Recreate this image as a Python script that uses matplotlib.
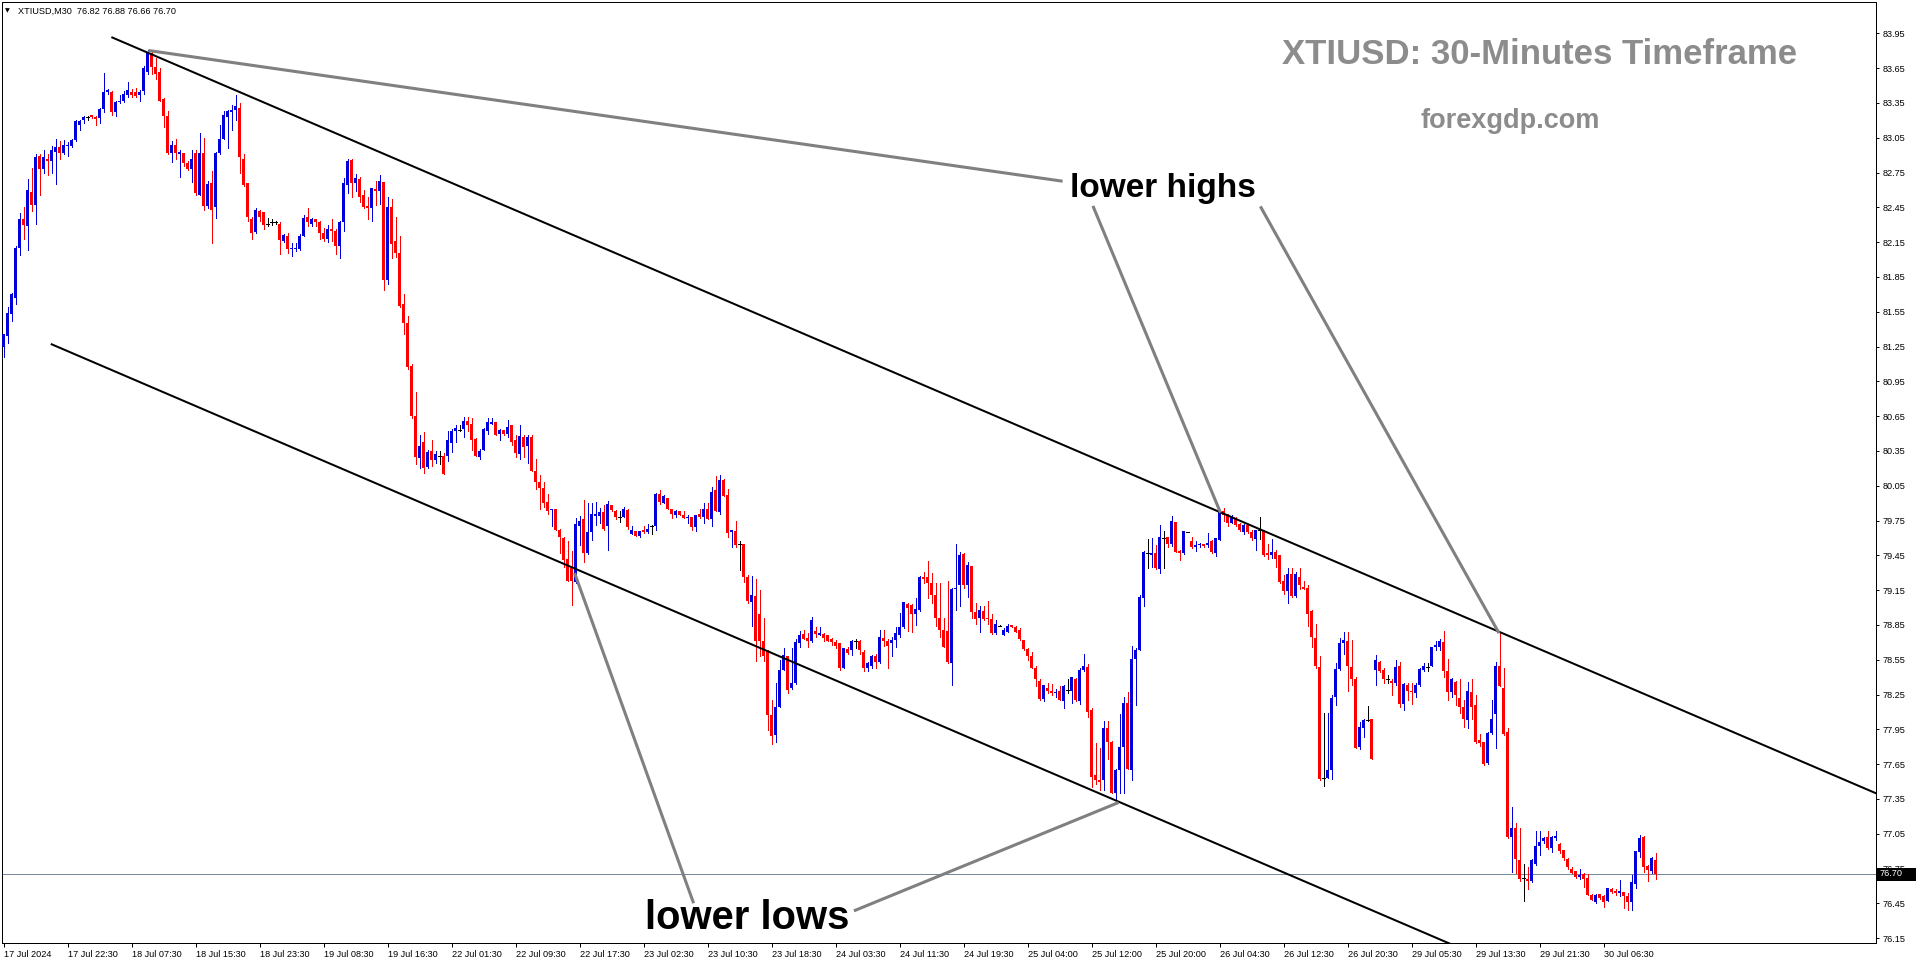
import matplotlib
matplotlib.use("Agg")
import matplotlib.pyplot as plt
from matplotlib.patches import Rectangle
import numpy as np

# XTIUSD M30 candles (one entry per bar)
opens = [
    81.25, 81.34, 81.53, 81.67, 82.10, 82.35, 82.29, 82.58, 82.47, 82.89,
    82.78, 82.87, 82.85, 82.93, 82.97, 82.92, 82.98, 82.98, 83.03, 83.16,
    83.20, 83.23, 83.25, 83.23, 83.22, 83.30, 83.44, 83.44, 83.27, 83.36,
    83.37, 83.42, 83.44, 83.44, 83.42, 83.45, 83.62, 83.78, 83.66, 83.62,
    83.38, 83.24, 82.92, 82.99, 82.91, 82.92, 82.83, 82.78, 82.92, 82.56,
    82.92, 82.46, 82.66, 82.45, 82.92, 83.04, 83.23, 83.27, 83.29, 83.31,
    82.87, 82.66, 82.35, 82.24, 82.42, 82.41, 82.31, 82.32, 82.32, 82.31,
    82.16, 82.20, 82.09, 82.09, 82.09, 82.20, 82.37, 82.31, 82.35, 82.32,
    82.23, 82.18, 82.26, 82.25, 82.12, 82.32, 82.64, 82.86, 82.66, 82.69,
    82.56, 82.46, 82.44, 82.61, 82.59, 82.67, 81.82, 82.45, 82.16, 82.06,
    81.62, 81.45, 81.08, 80.65, 80.29, 80.43, 80.21, 80.35, 80.27, 80.31,
    80.31, 80.31, 80.42, 80.52, 80.53, 80.54, 80.61, 80.58, 80.45, 80.30,
    80.36, 80.52, 80.58, 80.60, 80.50, 80.53, 80.50, 80.57, 80.44, 80.32,
    80.47, 80.39, 80.47, 80.18, 80.08, 80.03, 79.91, 79.84, 79.85, 79.67,
    79.60, 79.42, 79.34, 79.22, 79.70, 79.76, 79.47, 79.65, 79.79, 79.79,
    79.82, 79.70, 79.88, 79.83, 79.78, 79.78, 79.84, 79.63, 79.66, 79.62,
    79.67, 79.65, 79.70, 79.70, 79.98, 79.90, 79.94, 79.85, 79.80, 79.83,
    79.80, 79.77, 79.78, 79.69, 79.81, 79.78, 79.85, 79.76, 80.01, 79.82,
    80.10, 79.97, 79.65, 79.66, 79.55, 79.55, 79.26, 79.05, 79.10, 78.94,
    78.71, 78.62, 78.07, 77.90, 78.14, 78.46, 78.58, 78.31, 78.35, 78.69,
    78.77, 78.74, 78.71, 78.80, 78.76, 78.77, 78.76, 78.73, 78.70, 78.69,
    78.48, 78.64, 78.63, 78.71, 78.71, 78.62, 78.48, 78.50, 78.58, 78.53,
    78.74, 78.71, 78.69, 78.72, 78.76, 78.83, 79.03, 79.02, 78.94, 78.98,
    79.26, 79.26, 79.21, 79.11, 78.91, 78.81, 78.80, 78.52, 79.16, 79.19,
    79.46, 79.19, 79.36, 78.96, 78.91, 78.97, 78.91, 78.90, 78.78, 78.84,
    78.76, 78.79, 78.85, 78.83, 78.81, 78.72, 78.64, 78.58, 78.48, 78.37,
    78.21, 78.31, 78.28, 78.26, 78.28, 78.19, 78.29, 78.28, 78.38, 78.19,
    78.46, 78.49, 78.12, 77.56, 77.51, 77.51, 77.96, 77.84, 77.40, 77.60,
    77.80, 78.18, 77.60, 78.56, 78.63, 79.08, 79.47, 79.45, 79.47, 79.33,
    79.60, 79.61, 79.55, 79.74, 79.49, 79.47, 79.65, 79.57, 79.52, 79.54,
    79.55, 79.54, 79.57, 79.47, 79.58, 79.83, 79.81, 79.73, 79.77, 79.72,
    79.65, 79.71, 79.65, 79.59, 79.67, 79.66, 79.47, 79.45, 79.48, 79.45,
    79.23, 79.14, 79.29, 79.10, 79.26, 79.18, 79.17, 78.97, 78.74, 78.49,
    77.53, 77.53, 77.60, 78.23, 78.47, 78.69, 78.71, 78.49, 78.38, 77.80,
    77.96, 78.03, 78.04, 78.46, 78.53, 78.46, 78.38, 78.37, 78.35, 78.50,
    78.17, 78.33, 78.28, 78.26, 78.33, 78.46, 78.49, 78.50, 78.66, 78.66,
    78.70, 78.45, 78.27, 78.36, 78.22, 78.14, 78.03, 78.27, 78.16, 77.86,
    77.84, 77.66, 77.92, 78.08, 78.50, 78.31, 77.93, 77.02, 77.10, 76.82,
    76.67, 76.66, 76.64, 76.79, 76.94, 76.99, 77.02, 76.93, 77.01, 76.96,
    76.91, 76.83, 76.75, 76.73, 76.68, 76.70, 76.67, 76.52, 76.46, 76.53,
    76.51, 76.47, 76.57, 76.56, 76.54, 76.55, 76.51, 76.46, 76.62, 76.89,
    77.02, 76.77, 76.73, 76.82,
]
highs = [
    81.36, 81.59, 81.71, 82.12, 82.40, 82.45, 82.69, 82.79, 82.91, 82.91,
    82.94, 82.91, 82.98, 83.04, 83.02, 83.03, 83.01, 83.04, 83.20, 83.20,
    83.24, 83.24, 83.25, 83.24, 83.31, 83.61, 83.47, 83.45, 83.37, 83.42,
    83.45, 83.53, 83.47, 83.48, 83.46, 83.67, 83.81, 83.79, 83.74, 83.65,
    83.39, 83.28, 83.02, 83.04, 82.94, 82.92, 82.85, 82.94, 82.94, 83.09,
    83.05, 82.68, 82.76, 82.93, 83.16, 83.28, 83.29, 83.33, 83.42, 83.35,
    82.91, 82.66, 82.37, 82.44, 82.43, 82.41, 82.36, 82.35, 82.33, 82.32,
    82.22, 82.23, 82.14, 82.14, 82.22, 82.38, 82.44, 82.36, 82.35, 82.33,
    82.27, 82.30, 82.35, 82.26, 82.33, 82.70, 82.87, 82.87, 82.74, 82.71,
    82.60, 82.54, 82.62, 82.68, 82.73, 82.67, 82.54, 82.52, 82.37, 82.20,
    81.70, 81.51, 81.10, 80.86, 80.49, 80.51, 80.36, 80.44, 80.35, 80.35,
    80.33, 80.52, 80.54, 80.57, 80.57, 80.64, 80.64, 80.63, 80.46, 80.37,
    80.55, 80.63, 80.63, 80.60, 80.54, 80.53, 80.62, 80.57, 80.49, 80.57,
    80.49, 80.49, 80.49, 80.28, 80.14, 80.08, 79.98, 79.85, 79.85, 79.68,
    79.61, 79.57, 79.49, 79.77, 79.79, 79.93, 79.90, 79.90, 79.91, 79.86,
    79.88, 79.92, 79.88, 79.84, 79.83, 79.87, 79.85, 79.70, 79.66, 79.66,
    79.70, 79.72, 79.71, 79.99, 80.01, 79.97, 79.94, 79.85, 79.84, 79.83,
    79.83, 79.80, 79.78, 79.80, 79.85, 79.90, 79.90, 80.04, 80.13, 80.14,
    80.11, 80.02, 79.67, 79.75, 79.57, 79.55, 79.28, 79.27, 79.25, 79.15,
    78.91, 78.63, 78.20, 78.35, 78.55, 78.65, 78.58, 78.65, 78.73, 78.80,
    78.81, 78.78, 78.92, 78.83, 78.83, 78.78, 78.76, 78.74, 78.72, 78.69,
    78.65, 78.66, 78.72, 78.73, 78.72, 78.63, 78.53, 78.59, 78.60, 78.81,
    78.81, 78.73, 78.75, 78.83, 78.95, 79.05, 79.04, 79.03, 79.08, 79.27,
    79.31, 79.40, 79.30, 79.21, 79.21, 78.91, 79.23, 79.17, 79.55, 79.48,
    79.47, 79.39, 79.36, 79.04, 79.01, 79.01, 79.06, 78.94, 78.89, 78.85,
    78.82, 78.86, 78.85, 78.84, 78.82, 78.72, 78.65, 78.62, 78.50, 78.38,
    78.33, 78.35, 78.34, 78.30, 78.32, 78.33, 78.38, 78.40, 78.39, 78.48,
    78.60, 78.51, 78.13, 77.83, 77.79, 78.02, 78.02, 77.85, 77.61, 78.08,
    78.23, 78.27, 78.67, 78.65, 79.11, 79.49, 79.59, 79.60, 79.54, 79.71,
    79.66, 79.61, 79.79, 79.74, 79.50, 79.66, 79.65, 79.61, 79.57, 79.56,
    79.55, 79.64, 79.58, 79.60, 79.83, 79.86, 79.81, 79.80, 79.78, 79.73,
    79.72, 79.71, 79.67, 79.67, 79.78, 79.67, 79.55, 79.59, 79.50, 79.45,
    79.28, 79.34, 79.34, 79.31, 79.34, 79.23, 79.19, 78.98, 78.86, 78.58,
    78.09, 78.09, 78.25, 78.52, 78.74, 78.79, 78.79, 78.72, 78.40, 78.01,
    78.04, 78.15, 78.04, 78.59, 78.54, 78.48, 78.42, 78.38, 78.55, 78.53,
    78.35, 78.35, 78.35, 78.35, 78.48, 78.52, 78.52, 78.66, 78.71, 78.73,
    78.80, 78.56, 78.39, 78.37, 78.38, 78.20, 78.36, 78.38, 78.25, 77.91,
    77.84, 77.93, 78.20, 78.53, 78.78, 78.48, 77.96, 77.28, 77.14, 77.10,
    76.79, 76.76, 76.83, 77.07, 77.07, 77.02, 77.07, 77.03, 77.07, 76.97,
    76.91, 76.84, 76.76, 76.73, 76.75, 76.71, 76.70, 76.53, 76.53, 76.53,
    76.52, 76.58, 76.58, 76.57, 76.65, 76.55, 76.54, 76.69, 76.90, 77.04,
    77.03, 76.78, 76.85, 76.88,
]
lows = [
    81.16, 81.28, 81.47, 81.62, 82.04, 82.18, 82.08, 82.42, 82.31, 82.56,
    82.75, 82.73, 82.75, 82.65, 82.87, 82.91, 82.89, 82.97, 83.02, 83.12,
    83.18, 83.20, 83.22, 83.16, 83.18, 83.27, 83.43, 83.25, 83.24, 83.35,
    83.36, 83.40, 83.40, 83.40, 83.37, 83.43, 83.60, 83.60, 83.56, 83.37,
    83.14, 82.91, 82.84, 82.87, 82.71, 82.81, 82.77, 82.67, 82.56, 82.56,
    82.43, 82.44, 82.14, 82.36, 82.91, 83.04, 82.96, 83.12, 83.20, 82.75,
    82.63, 82.33, 82.18, 82.23, 82.33, 82.26, 82.29, 82.30, 82.31, 82.05,
    82.15, 82.06, 82.03, 82.07, 82.08, 82.20, 82.29, 82.29, 82.29, 82.18,
    82.16, 82.15, 82.16, 82.05, 82.01, 82.25, 82.57, 82.54, 82.59, 82.50,
    82.44, 82.35, 82.33, 82.47, 82.48, 81.74, 81.79, 82.01, 82.02, 81.59,
    81.36, 81.06, 80.63, 80.24, 80.20, 80.16, 80.20, 80.22, 80.25, 80.24,
    80.15, 80.26, 80.34, 80.43, 80.52, 80.47, 80.52, 80.36, 80.31, 80.28,
    80.36, 80.50, 80.58, 80.49, 80.44, 80.49, 80.47, 80.40, 80.30, 80.28,
    80.30, 80.25, 80.18, 80.02, 79.85, 79.87, 79.81, 79.70, 79.67, 79.47,
    79.35, 79.23, 79.02, 79.21, 79.54, 79.39, 79.46, 79.58, 79.71, 79.73,
    79.67, 79.50, 79.83, 79.76, 79.74, 79.78, 79.68, 79.63, 79.62, 79.61,
    79.64, 79.64, 79.63, 79.67, 79.89, 79.90, 79.85, 79.77, 79.78, 79.80,
    79.77, 79.73, 79.67, 79.66, 79.77, 79.73, 79.76, 79.70, 79.83, 79.81,
    79.96, 79.61, 79.52, 79.52, 79.32, 79.22, 79.04, 78.84, 78.54, 78.58,
    78.54, 77.94, 77.82, 77.84, 78.14, 78.46, 78.26, 78.30, 78.34, 78.66,
    78.73, 78.66, 78.70, 78.75, 78.76, 78.71, 78.71, 78.68, 78.65, 78.46,
    78.48, 78.60, 78.59, 78.65, 78.60, 78.45, 78.45, 78.48, 78.48, 78.52,
    78.67, 78.48, 78.58, 78.66, 78.75, 78.82, 78.80, 78.79, 78.85, 78.97,
    79.21, 79.08, 79.04, 78.84, 78.75, 78.66, 78.52, 78.33, 78.98, 79.01,
    79.17, 79.09, 78.91, 78.86, 78.79, 78.89, 78.86, 78.77, 78.77, 78.84,
    78.76, 78.79, 78.83, 78.79, 78.72, 78.63, 78.55, 78.48, 78.32, 78.20,
    78.19, 78.26, 78.25, 78.23, 78.20, 78.13, 78.26, 78.18, 78.19, 78.17,
    78.45, 78.06, 77.45, 77.48, 77.43, 77.43, 77.69, 77.40, 77.34, 77.40,
    77.40, 77.61, 77.51, 78.16, 78.63, 79.01, 79.34, 79.35, 79.33, 79.30,
    79.34, 79.52, 79.53, 79.48, 79.41, 79.46, 79.65, 79.51, 79.49, 79.52,
    79.52, 79.52, 79.47, 79.44, 79.58, 79.75, 79.70, 79.73, 79.70, 79.66,
    79.63, 79.64, 79.58, 79.50, 79.59, 79.44, 79.42, 79.43, 79.35, 79.21,
    79.12, 79.04, 79.09, 79.09, 79.16, 79.16, 78.84, 78.66, 78.48, 77.51,
    77.46, 77.53, 77.52, 78.16, 78.46, 78.60, 78.28, 78.33, 77.79, 77.78,
    77.88, 78.02, 77.69, 78.33, 78.44, 78.35, 78.35, 78.25, 78.33, 78.14,
    78.12, 78.20, 78.17, 78.23, 78.32, 78.45, 78.45, 78.50, 78.63, 78.63,
    78.40, 78.20, 78.23, 78.16, 78.09, 77.97, 77.96, 78.04, 77.83, 77.81,
    77.64, 77.65, 77.91, 77.79, 78.32, 77.90, 77.01, 76.72, 76.71, 76.64,
    76.47, 76.57, 76.63, 76.78, 76.87, 76.97, 76.92, 76.89, 77.00, 76.88,
    76.82, 76.75, 76.71, 76.67, 76.66, 76.59, 76.52, 76.48, 76.45, 76.49,
    76.42, 76.47, 76.54, 76.52, 76.51, 76.41, 76.39, 76.39, 76.58, 76.85,
    76.72, 76.64, 76.71, 76.66,
]
closes = [
    81.36, 81.54, 81.70, 82.10, 82.35, 82.30, 82.60, 82.47, 82.88, 82.78,
    82.88, 82.85, 82.94, 82.97, 82.92, 82.99, 82.99, 83.03, 83.19, 83.19,
    83.23, 83.23, 83.23, 83.21, 83.30, 83.44, 83.46, 83.27, 83.36, 83.37,
    83.43, 83.46, 83.42, 83.41, 83.44, 83.65, 83.79, 83.66, 83.60, 83.37,
    83.24, 82.92, 82.99, 82.92, 82.93, 82.83, 82.78, 82.87, 82.57, 82.92,
    82.46, 82.65, 82.43, 82.92, 83.04, 83.25, 83.28, 83.29, 83.32, 82.88,
    82.64, 82.37, 82.23, 82.43, 82.37, 82.30, 82.31, 82.32, 82.32, 82.17,
    82.21, 82.09, 82.10, 82.10, 82.20, 82.36, 82.32, 82.35, 82.32, 82.23,
    82.18, 82.26, 82.25, 82.12, 82.32, 82.66, 82.85, 82.66, 82.70, 82.54,
    82.45, 82.44, 82.62, 82.59, 82.68, 81.82, 82.45, 82.13, 82.06, 81.60,
    81.45, 81.07, 80.65, 80.30, 80.39, 80.20, 80.34, 80.27, 80.32, 80.31,
    80.15, 80.44, 80.52, 80.55, 80.53, 80.61, 80.57, 80.44, 80.31, 80.35,
    80.54, 80.60, 80.60, 80.49, 80.53, 80.50, 80.56, 80.43, 80.33, 80.48,
    80.38, 80.47, 80.18, 80.08, 80.03, 79.90, 79.83, 79.85, 79.67, 79.61,
    79.41, 79.23, 79.23, 79.72, 79.75, 79.47, 79.65, 79.81, 79.81, 79.82,
    79.68, 79.89, 79.84, 79.78, 79.78, 79.85, 79.69, 79.67, 79.62, 79.66,
    79.65, 79.68, 79.70, 79.98, 79.91, 79.96, 79.85, 79.81, 79.83, 79.80,
    79.77, 79.78, 79.69, 79.80, 79.78, 79.85, 79.76, 80.00, 79.83, 80.10,
    79.96, 79.64, 79.67, 79.54, 79.55, 79.26, 79.06, 79.11, 78.71, 78.71,
    78.58, 78.07, 77.89, 78.14, 78.46, 78.59, 78.29, 78.35, 78.70, 78.76,
    78.73, 78.71, 78.89, 78.77, 78.78, 78.74, 78.71, 78.70, 78.67, 78.48,
    78.65, 78.61, 78.71, 78.71, 78.63, 78.48, 78.52, 78.58, 78.53, 78.75,
    78.71, 78.67, 78.72, 78.78, 78.83, 79.05, 79.00, 78.94, 78.99, 79.26,
    79.25, 79.21, 79.11, 78.91, 78.81, 78.66, 78.53, 79.16, 79.17, 79.45,
    79.19, 79.37, 78.96, 78.90, 78.98, 78.90, 78.90, 78.78, 78.86, 78.84,
    78.81, 78.84, 78.83, 78.79, 78.73, 78.64, 78.58, 78.48, 78.38, 78.21,
    78.33, 78.28, 78.26, 78.27, 78.20, 78.32, 78.29, 78.40, 78.20, 78.46,
    78.50, 78.10, 77.54, 77.51, 77.50, 77.96, 77.84, 77.40, 77.60, 77.80,
    78.18, 77.61, 78.56, 78.63, 79.09, 79.48, 79.47, 79.47, 79.34, 79.61,
    79.60, 79.55, 79.75, 79.48, 79.47, 79.66, 79.65, 79.52, 79.54, 79.55,
    79.53, 79.56, 79.48, 79.60, 79.82, 79.80, 79.73, 79.78, 79.71, 79.67,
    79.71, 79.65, 79.60, 79.67, 79.67, 79.45, 79.45, 79.48, 79.42, 79.22,
    79.14, 79.29, 79.10, 79.29, 79.19, 79.16, 78.94, 78.75, 78.50, 77.52,
    77.53, 77.60, 78.22, 78.47, 78.69, 78.72, 78.50, 78.38, 77.79, 77.97,
    78.03, 78.03, 77.69, 78.55, 78.45, 78.38, 78.38, 78.35, 78.49, 78.17,
    78.34, 78.28, 78.27, 78.33, 78.47, 78.50, 78.49, 78.66, 78.68, 78.71,
    78.45, 78.27, 78.38, 78.25, 78.14, 78.04, 78.28, 78.14, 77.84, 77.83,
    77.65, 77.92, 78.04, 78.50, 78.32, 77.91, 77.02, 77.10, 76.83, 76.66,
    76.67, 76.64, 76.82, 76.94, 76.98, 77.01, 76.93, 77.02, 77.03, 76.90,
    76.84, 76.76, 76.71, 76.68, 76.69, 76.66, 76.52, 76.48, 76.52, 76.50,
    76.46, 76.58, 76.55, 76.54, 76.56, 76.51, 76.46, 76.63, 76.90, 77.01,
    76.76, 76.74, 76.84, 76.70,
]

time_labels = [
    "17 Jul 2024", "17 Jul 22:30", "18 Jul 07:30", "18 Jul 15:30", "18 Jul 23:30",
    "19 Jul 08:30", "19 Jul 16:30", "22 Jul 01:30", "22 Jul 09:30", "22 Jul 17:30",
    "23 Jul 02:30", "23 Jul 10:30", "23 Jul 18:30", "24 Jul 03:30", "24 Jul 11:30",
    "24 Jul 19:30", "25 Jul 04:00", "25 Jul 12:00", "25 Jul 20:00", "26 Jul 04:30",
    "26 Jul 12:30", "26 Jul 20:30", "29 Jul 05:30", "29 Jul 13:30", "29 Jul 21:30",
    "30 Jul 06:30",
]
bars_per_label = 16
price_ticks = [round(76.15 + 0.30 * k, 2) for k in range(27)]
last_price = 76.70

# trend lines drawn on the chart: (bar index, price) end points
upper_channel = [(27.2, 83.914), (468.1, 77.399)]
lower_channel = [(12.05, 81.269), (380.0, 75.830)]
arrow_lines = [
    [(36.6, 83.80), (264.4, 82.677)],
    [(272.5, 82.45), (304.1, 79.83)],
    [(314.4, 82.447), (373.7, 78.79)],
    [(142.9, 79.285), (172.4, 76.463)],
    [(212.95, 76.39), (278.4, 77.314)],
]

W, H = 1916, 964
BLUE = "#0000dd"
RED = "#ff0000"

o = np.array(opens)
h = np.array(highs)
l = np.array(lows)
c = np.array(closes)
x = np.arange(len(o))
up = c > o
dn = c < o
eq = c == o

fig = plt.figure(figsize=(W / 100, H / 100), dpi=100)
ax = fig.add_axes([2 / W, 21 / H, 1874 / W, 941 / H])
ax.set_xlim(-0.375, 468.125)
ax.set_ylim(76.108, 84.22)

px = 0.72  # one pixel in points
for mask, col in [(up, BLUE), (dn, RED), (eq, "black")]:
    ax.vlines(x[mask], l[mask], h[mask], colors=col, lw=px, antialiased=False, zorder=3)
for mask, col in [(up, BLUE), (dn, RED)]:
    ax.bar(x[mask], np.abs(c - o)[mask], bottom=np.minimum(o, c)[mask], width=0.75,
           color=col, linewidth=0, antialiased=False, zorder=3)
ax.hlines(c[eq], x[eq] - 0.4, x[eq] + 0.4, colors="black", lw=px, antialiased=False, zorder=3)

ax.axhline(last_price, color="#778899", lw=px, zorder=1)

for seg in [upper_channel, lower_channel]:
    (x0, y0), (x1, y1) = seg
    ax.plot([x0, x1], [y0, y1], color="black", lw=1.45, zorder=4)
for seg in arrow_lines:
    (x0, y0), (x1, y1) = seg
    ax.plot([x0, x1], [y0, y1], color="#808080", lw=2.2, zorder=4)

for s in ax.spines.values():
    s.set_linewidth(px)
    s.set_color("black")

ax.yaxis.tick_right()
ax.set_yticks(price_ticks)
ax.set_yticklabels([f"{v:.2f}" for v in price_ticks])
ax.tick_params(axis="y", direction="out", length=2.5, width=px, pad=2,
               labelsize=6.6, labelcolor="black")
ax.set_xticks([k * bars_per_label for k in range(len(time_labels))])
ax.set_xticklabels(time_labels, ha="left")
ax.tick_params(axis="x", direction="out", length=3, width=px, pad=2, labelsize=6.6)
for t in ax.get_xticklabels() + ax.get_yticklabels():
    t.set_fontfamily("Liberation Sans")

# current price tag on the right scale
fig.patches.append(Rectangle((1877 / W, 1 - 880.5 / H), 39 / W, 13 / H,
                             transform=fig.transFigure, facecolor="black",
                             edgecolor="none", zorder=10))
fig.text(1880 / W, 1 - 874 / H, "76.70", color="white", fontsize=6.6,
         family="Liberation Sans", va="center", ha="left", zorder=11)

fig.text(5 / W, 1 - 11 / H, "\u25bc", fontsize=4.5, family="DejaVu Sans", va="center")
fig.text(18 / W, 1 - 11 / H, "XTIUSD,M30  76.82 76.88 76.66 76.70", fontsize=6.6,
         family="Liberation Sans", va="center")

fig.text(1540 / W, 1 - 54 / H, "XTIUSD: 30-Minutes Timeframe", fontsize=25,
         fontweight="bold", color="#8c8c8c", family="Liberation Sans",
         ha="center", va="center")
fig.text(1510 / W, 1 - 121 / H, "forexgdp.com", fontsize=19.5, fontweight="bold",
         color="#8c8c8c", family="Liberation Sans", ha="center", va="center")
fig.text(1163 / W, 1 - 189 / H, "lower highs", fontsize=24, fontweight="bold",
         color="black", family="Liberation Sans", ha="center", va="center")
fig.text(747 / W, 1 - 918 / H, "lower lows", fontsize=28.8, fontweight="bold",
         color="black", family="Liberation Sans", ha="center", va="center")

fig.savefig("out.png", dpi=100)
